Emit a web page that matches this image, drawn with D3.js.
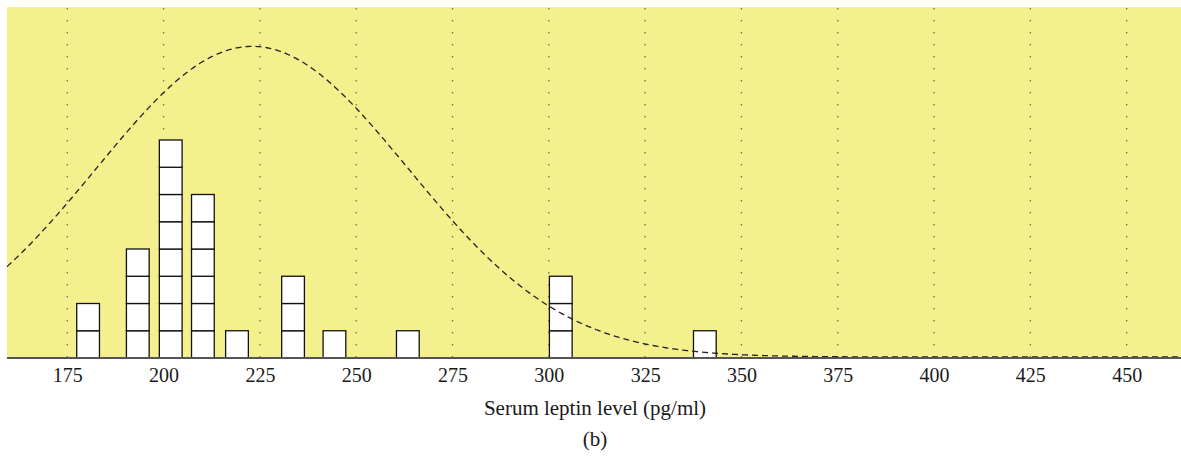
<!DOCTYPE html>
<html>
<head>
<meta charset="utf-8">
<script src="https://cdn.jsdelivr.net/npm/d3@7"></script>
<style>
  body { margin: 0; background: #fff; }
  svg text { font-family: "Liberation Serif", "DejaVu Serif", serif; fill: #1a1a1a; }
</style>
</head>
<body>
<svg id="chart"></svg>
<script>
// Données : centre de chaque pile de carrés et nombre de carrés
const binCenters = [180.4, 193.3, 201.85, 210.2, 219.05, 233.6, 244.35, 263.4, 303.1, 340.5];
const binCounts = [2, 4, 8, 6, 1, 3, 1, 1, 3, 1];
const boxWidth = 5.9; // largeur d'un carré, en pg/ml

// Courbe normale ajustée (moyenne, écart-type, hauteur du sommet en carrés)
const curveMean = 223;
const curveSd = 40.5;
const curvePeak = 11.4;

const tickValues = [175, 200, 225, 250, 275, 300, 325, 350, 375, 400, 425, 450];
const xLabel = "Serum leptin level (pg/ml)";
const panelLabel = "(b)";

const width = 1181, height = 459;
const svg = d3.select("#chart").attr("width", width).attr("height", height);

// Zone du graphique
const plotLeft = 7, plotRight = 1181, plotTop = 7, plotBottom = 358;

const x = d3.scaleLinear().domain([159.35, 464.1]).range([plotLeft, plotRight]);
const y = d3.scaleLinear().domain([0, (plotBottom - plotTop) / 27.25]).range([plotBottom, plotTop]);

// Fond jaune
svg.append("rect")
    .attr("x", plotLeft).attr("y", plotTop)
    .attr("width", plotRight - plotLeft).attr("height", plotBottom - plotTop)
    .attr("fill", "#f5f08e");

// Grille verticale en pointillés
svg.append("g")
    .selectAll("line")
    .data(tickValues)
    .enter().append("line")
    .attr("x1", d => x(d)).attr("x2", d => x(d))
    .attr("y1", plotTop + 1).attr("y2", plotBottom)
    .attr("stroke", "#77744f")
    .attr("stroke-width", 1.3)
    .attr("stroke-dasharray", "1.5,10.5");

// Piles de carrés
const boxes = [];
binCenters.forEach((c, i) => {
    for (let k = 0; k < binCounts[i]; k++) boxes.push({ center: c, level: k });
});

svg.append("g")
    .selectAll("rect")
    .data(boxes)
    .enter().append("rect")
    .attr("x", d => x(d.center - boxWidth / 2))
    .attr("y", d => y(d.level + 1))
    .attr("width", d => x(d.center + boxWidth / 2) - x(d.center - boxWidth / 2))
    .attr("height", d => y(d.level) - y(d.level + 1))
    .attr("fill", "#fff")
    .attr("stroke", "#111")
    .attr("stroke-width", 1.3);

// Courbe normale en tirets
const curveX = d3.range(159.35, 464.2, 0.5);
const line = d3.line()
    .x(d => x(d))
    .y(d => y(curvePeak * Math.exp(-((d - curveMean) ** 2) / (2 * curveSd * curveSd))) - 1)
    .curve(d3.curveBasis);

svg.append("path")
    .datum(curveX)
    .attr("d", line)
    .attr("fill", "none")
    .attr("stroke", "#222")
    .attr("stroke-width", 1.3)
    .attr("stroke-dasharray", "6,4");

// Axe horizontal
svg.append("line")
    .attr("x1", plotLeft).attr("x2", plotRight)
    .attr("y1", plotBottom).attr("y2", plotBottom)
    .attr("stroke", "#555")
    .attr("stroke-width", 2);

const xAxis = svg.append("g")
    .attr("transform", `translate(0,${plotBottom})`)
    .call(d3.axisBottom(x).tickValues(tickValues).tickSize(0).tickPadding(24));
xAxis.select(".domain").remove();
xAxis.selectAll("text")
    .attr("dy", 0)
    .style("font-size", "20px")
    .style("font-family", "Liberation Serif, serif")
    .attr("fill", "#1a1a1a");

// Titres
svg.append("text")
    .attr("x", 595).attr("y", 415)
    .attr("text-anchor", "middle")
    .attr("font-size", "21px")
    .text(xLabel);

svg.append("text")
    .attr("x", 595).attr("y", 446)
    .attr("text-anchor", "middle")
    .attr("font-size", "21px")
    .text(panelLabel);
</script>
</body>
</html>
